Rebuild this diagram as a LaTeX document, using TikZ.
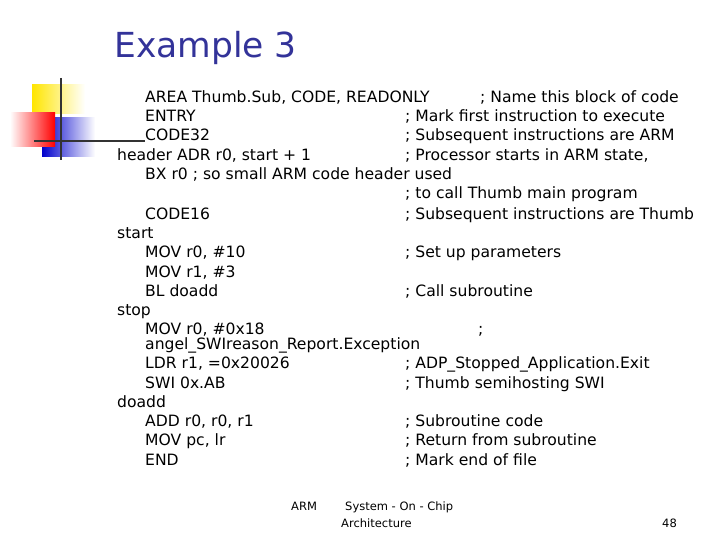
\documentclass[tikz,border=0pt]{standalone}
\usepackage{fontspec}
\setmainfont{DejaVu Sans}
\begin{document}
\begin{tikzpicture}[x=1pt,y=-1pt,
 code/.style={anchor=base west,inner sep=0pt,font=\fontsize{15.6}{17}\selectfont},
 foot/.style={anchor=base west,inner sep=0pt,font=\fontsize{11.5}{13}\selectfont}]
\useasboundingbox (0,0) rectangle (720,540);
\shade[left color=yellow!80!orange,right color=white] (32,85) rectangle (85,114);
\shade[left color=blue!80!black,right color=white] (42,118) rectangle (95,157);
\shade[left color=white,right color=red] (10,113) rectangle (55,147);
\draw[line width=2pt,black!80] (61,78) -- (61,160);
\draw[line width=2pt,black!80] (34,141) -- (145,141);
\node[anchor=base west,inner sep=0pt,text={rgb,255:red,51;green,51;blue,153},font=\fontsize{34.5}{38}\selectfont] (title) at (114,58) {Example 3};
\foreach \t/\x/\y [count=\i] in {
 {AREA Thumb.Sub, CODE, READONLY}/145/98, {; Name this block of code}/480/98,
 ENTRY/145/117, {; Mark first instruction to execute}/405/117,
 CODE32/145/136, {; Subsequent instructions are ARM}/405/136,
 {header ADR r0, start + 1}/117/156, {; Processor starts in ARM state,}/405/156,
 {BX r0 ; so small ARM code header used}/145/175,
 {; to call Thumb main program}/405/194,
 CODE16/145/214, {; Subsequent instructions are Thumb}/405/214,
 start/117/233,
 {MOV r0, \#10}/145/252, {; Set up parameters}/405/252,
 {MOV r1, \#3}/145/272,
 {BL doadd}/145/291, {; Call subroutine}/405/291,
 stop/117/310,
 {MOV r0, \#0x18}/145/329, {;}/478/329,
 {angel\_SWIreason\_Report.Exception}/145/344,
 {LDR r1, =0x20026}/145/363, {; ADP\_Stopped\_Application.Exit}/405/363,
 {SWI 0x.AB}/145/383, {; Thumb semihosting SWI}/405/383,
 doadd/117/402,
 {ADD r0, r0, r1}/145/421, {; Subroutine code}/405/421,
 {MOV pc, lr}/145/440, {; Return from subroutine}/405/440,
 END/145/460, {; Mark end of file}/405/460}
 \node[code] (c\i) at (\x,\y+5) {\t};
\node[foot] (f1) at (291,510) {ARM};
\node[foot] (f2) at (345,510) {System - On - Chip};
\node[foot] (f3) at (341,527) {Architecture};
\node[foot] (f4) at (662,527) {48};
\end{tikzpicture}
\end{document}
